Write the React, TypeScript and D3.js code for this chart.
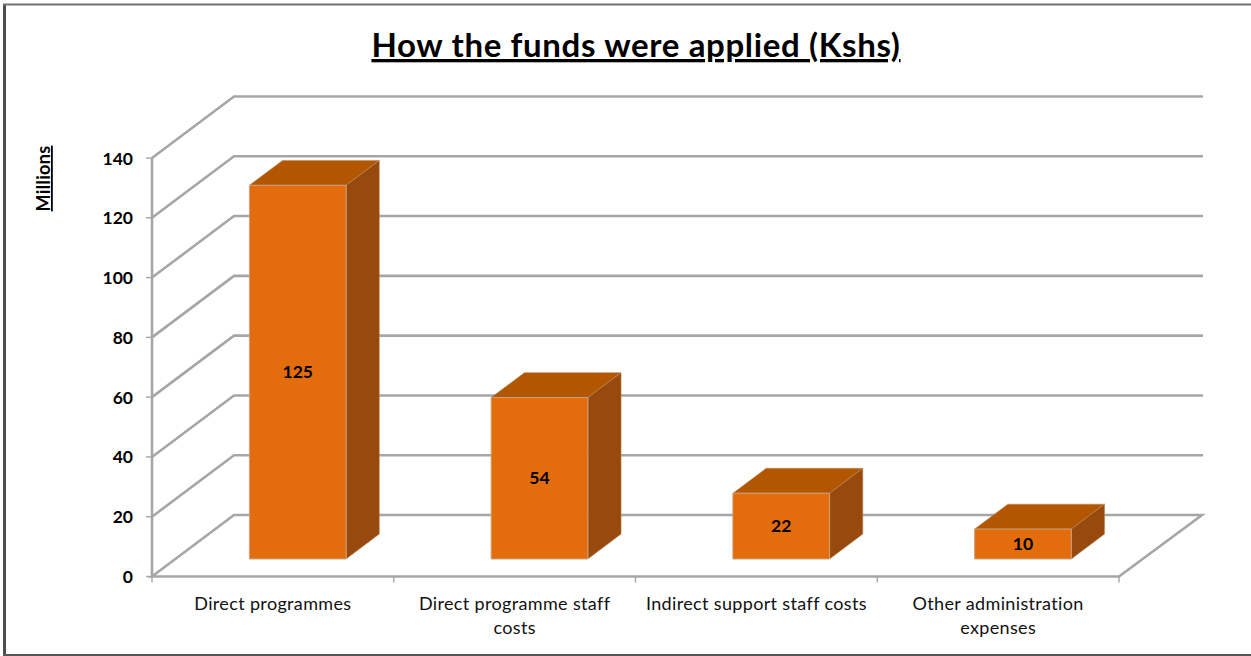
import React from "react";
import * as d3 from "d3";

const categories = [
  ["Direct programmes"],
  ["Direct programme staff", "costs"],
  ["Indirect support staff costs"],
  ["Other administration", "expenses"],
];
const values = [125, 54, 22, 10];
const yTicks = [0, 20, 40, 60, 80, 100, 120, 140];

const width = 1251;
const height = 656;
const font = "Lato, sans-serif";
const gridColor = "#a6a6a6";

// front plane of the 3D box
const x = d3.scaleBand<number>().domain([0, 1, 2, 3]).range([152, 1119]).paddingInner(0).paddingOuter(0);
const y = d3.scaleLinear().domain([0, 140]).range([576.5, 158]);
// how far a point sits towards the back wall
const depthX = d3.scaleLinear().domain([0, 1]).range([0, 82]);
const depthY = d3.scaleLinear().domain([0, 1]).range([0, -61.5]);

const project = (px: number, value: number, depth: number): [number, number] => [
  px + depthX(depth),
  y(value) + depthY(depth),
];
const pathOf = (pts: [number, number][]) => d3.line()(pts) + "Z";
const openPath = (pts: [number, number][]) => d3.line()(pts) as string;

export default function App() {
  const barW = x.bandwidth() * 0.4;
  const d0 = 0.285;
  const d1 = 0.69;
  const barLeft = (i: number) => (x(i) as number) + (x.bandwidth() - barW) / 2 + 1.5;
  return (
    <svg width={width} height={height} style={{ position: "absolute", left: 0, top: 0, background: "#fff" }}>
      <defs>
        <filter id="soft" x="-5%" y="-5%" width="110%" height="110%">
          <feGaussianBlur stdDeviation="0.5" />
        </filter>
      </defs>
      {/* frame: the picture has no right edge */}
      <path d={openPath([[4.5, 4.5], [4.5, 655]])} stroke="#4d4d4d" strokeWidth={3} fill="none" />
      <path d={openPath([[3, 4.5], [1251, 4.5]])} stroke="#707070" strokeWidth={1.8} fill="none" />
      <path d={openPath([[3, 655], [1251, 655]])} stroke="#555" strokeWidth={2} fill="none" />

      <text
        x={636}
        y={57}
        textAnchor="middle"
        fontFamily={font}
        fontWeight={700}
        fontSize={33}
        letterSpacing={0.65}
        textDecoration="underline"
        fill="#000"
      >
        How the funds were applied (Kshs)
      </text>

      <g filter="url(#soft)" fill="none" stroke={gridColor} strokeWidth={2.6}>
        {yTicks.slice(1).map((t) => (
          <path key={t} d={openPath([project(152, t, 0), project(152, t, 1), project(1121, t, 1)])} />
        ))}
        {/* floor */}
        <path d={pathOf([project(152, 0, 0), project(152, 0, 1), project(1120, 0, 1), project(1119, 0, 0)])} />
        {/* value axis */}
        <path d={openPath([[152, y(140)], [152, y(0)]])} />
        {yTicks.map((t) => (
          <path key={t} strokeWidth={1.4} d={openPath([[146, y(t)], [152, y(t)]])} />
        ))}
        {[0, 1, 2, 3].map((i) => (
          <path key={i} strokeWidth={1.4} d={openPath([[x(i) as number, y(0)], [x(i) as number, y(0) + 6]])} />
        ))}
        <path strokeWidth={1.4} d={openPath([[1119, y(0)], [1119, y(0) + 6]])} />
      </g>

      <g filter="url(#soft)">
        {values.map((v, i) => {
          const left = barLeft(i);
          const right = left + barW;
          return (
            <g key={i}>
              <path
                d={pathOf([project(left, v, d0), project(left, v, d1), project(right, v, d1), project(right, v, d0)])}
                fill="#b25605"
                stroke="#b98a5e"
                strokeWidth={0.6}
              />
              <path
                d={pathOf([project(right, 0, d0), project(right, v, d0), project(right, v, d1), project(right, 0, d1)])}
                fill="#984807"
                stroke="#b98a5e"
                strokeWidth={0.6}
              />
              <path
                d={pathOf([project(left, 0, d0), project(left, v, d0), project(right, v, d0), project(right, 0, d0)])}
                fill="#e36c09"
                stroke="#c9a27e"
                strokeWidth={1}
              />
            </g>
          );
        })}
      </g>

      {values.map((v, i) => {
        const [cx, cy] = project(barLeft(i) + barW / 2, v / 2, d0);
        return (
          <text key={i} x={cx} y={cy + 6} textAnchor="middle" fontFamily={font} fontWeight={700} fontSize={17.5} fill="#000">
            {v}
          </text>
        );
      })}

      {yTicks.map((t) => (
        <text key={t} x={133} y={y(t) + 6.5} textAnchor="end" fontFamily={font} fontWeight={700} fontSize={17.5} fill="#000">
          {t}
        </text>
      ))}

      <text
        transform="translate(50,178.5) rotate(-90)"
        textAnchor="middle"
        fontFamily={font}
        fontWeight={700}
        fontSize={18}
        letterSpacing={0.3}
        textDecoration="underline"
        fill="#000"
      >
        Millions
      </text>

      {categories.map((lines, i) =>
        lines.map((line, j) => (
          <text
            key={line}
            x={(x(i) as number) + x.bandwidth() / 2}
            y={609.5 + j * 24}
            textAnchor="middle"
            fontFamily={font}
            fontSize={18}
            letterSpacing={0.35}
            fill="#111"
          >
            {line}
          </text>
        )),
      )}
    </svg>
  );
}
